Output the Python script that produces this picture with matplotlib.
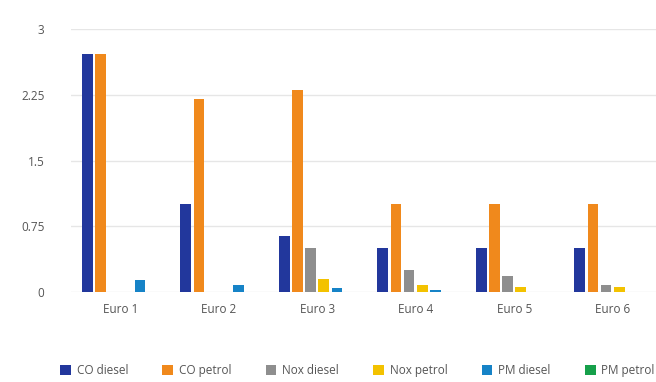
import matplotlib
matplotlib.use("Agg")
import matplotlib.pyplot as plt
import numpy as np

categories = ["Euro 1", "Euro 2", "Euro 3", "Euro 4", "Euro 5", "Euro 6"]
series_names = ["CO diesel", "CO petrol", "Nox diesel", "Nox petrol", "PM diesel", "PM petrol"]
co_diesel = [2.72, 1.0, 0.64, 0.5, 0.5, 0.5]
co_petrol = [2.72, 2.2, 2.3, 1.0, 1.0, 1.0]
nox_diesel = [0, 0, 0.5, 0.25, 0.18, 0.08]
nox_petrol = [0, 0, 0.15, 0.08, 0.06, 0.06]
pm_diesel = [0.14, 0.08, 0.05, 0.025, 0.005, 0.005]
pm_petrol = [0, 0, 0, 0, 0, 0]
yticks = [0, 0.75, 1.5, 2.25, 3]
ytick_labels = ["0", "0.75", "1.5", "2.25", "3"]

colors = ["#22379c", "#f0891c", "#8e8e8e", "#f3c200", "#1683c7", "#16a04a"]
series = [co_diesel, co_petrol, nox_diesel, nox_petrol, pm_diesel, pm_petrol]

plt.rcParams['font.family'] = ['Open Sans', 'DejaVu Sans']
fig = plt.figure(figsize=(6.56, 3.82), dpi=100)
ax = fig.add_axes([71/656, 90/382, 1 - 71/656, (292-29)/382])

x = np.arange(len(categories))
slot = 0.134
bw = 0.108
for i, (vals, c, name) in enumerate(zip(series, colors, series_names)):
    ax.bar(x + (i - 2.5) * slot, vals, width=bw, color=c, label=name, zorder=3)

ax.set_xlim(-0.5, 5.44)
ax.set_ylim(0, 3)
ax.set_yticks(yticks)
ax.set_yticklabels(ytick_labels)
ax.set_xticks(x)
ax.set_xticklabels(categories)
ax.tick_params(axis='both', length=0, labelsize=8.5, labelcolor="#555555")
ax.tick_params(axis='y', pad=19)
ax.tick_params(axis='x', pad=8)
ax.grid(axis='y', color="#e6e6e6", linewidth=1, zorder=0)
for s in ax.spines.values():
    s.set_visible(False)

leg = fig.legend(loc='center', bbox_to_anchor=(0.545, 0.03), ncol=6, frameon=False,
                 fontsize=8.5, handlelength=0.9, handleheight=0.9, handletextpad=0.5,
                 columnspacing=2.9, labelcolor="#555555")

fig.savefig("out.png", dpi=100, facecolor="white")
